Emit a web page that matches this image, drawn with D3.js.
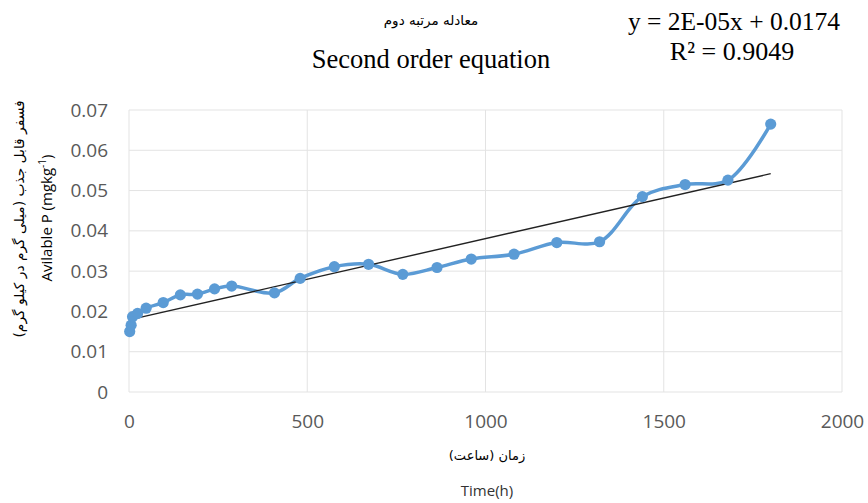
<!DOCTYPE html>
<html><head><meta charset="utf-8">
<script src="https://cdn.jsdelivr.net/npm/d3@7"></script>
<style>body{margin:0;background:#fff}svg{display:block}</style>
</head><body><svg id="c" width="868" height="503"></svg>
<script>
const hours = [2, 6, 10, 24, 48, 96, 144, 192, 240, 288, 408, 480, 576, 672, 768, 864, 960, 1080, 1200, 1320, 1440, 1560, 1680, 1800];
const availP = [0.0150, 0.0166, 0.0187, 0.0195, 0.0208, 0.0222, 0.0241, 0.0243, 0.0256, 0.0263, 0.0246, 0.0282, 0.0311, 0.0317, 0.0292, 0.0309, 0.0330, 0.0342, 0.0371, 0.0373, 0.0485, 0.0515, 0.0526, 0.0665];
const xTicks = [0, 500, 1000, 1500, 2000];
const yTicks = [0, 0.01, 0.02, 0.03, 0.04, 0.05, 0.06, 0.07];
const titleFa = "معادله مرتبه دوم";
const titleEn = "Second order equation";
const eqText = "y = 2E-05x + 0.0174";
const r2Text = "R² = 0.9049";
const yLabelFa = "فسفر قابل جذب (میلی گرم در کیلو گرم)";
const xLabelFa = "زمان (ساعت)";
const xLabelEn = "Time(h)";

const svg = d3.select("#c");
const L = 129, R = 842, T = 110, B = 392;
const x = d3.scaleLinear().domain([0, 2000]).range([L, R]);
const y = d3.scaleLinear().domain([0, 0.07]).range([B, T]);
const grid = "#e3e3e3", tickCol = "#595959";

// gridlines
svg.append("g").selectAll("line").data(yTicks).join("line")
  .attr("x1", L).attr("x2", R).attr("y1", d => y(d)).attr("y2", d => y(d))
  .attr("stroke", grid).attr("stroke-width", 1);
svg.append("g").selectAll("line").data(xTicks).join("line")
  .attr("y1", T).attr("y2", B).attr("x1", d => x(d)).attr("x2", d => x(d))
  .attr("stroke", grid).attr("stroke-width", 1);

// axes (tick labels only)
const yAxis = d3.axisLeft(y).tickValues(yTicks).tickSize(0).tickPadding(21)
  .tickFormat(d => d === 0 ? "0" : d3.format(".2f")(d));
const gy = svg.append("g").attr("transform", `translate(${L},0)`).call(yAxis);
gy.select(".domain").remove();
gy.selectAll("text").attr("font-family", "'Open Sans', sans-serif").attr("font-size", 19).attr("fill", tickCol);

const xAxis = d3.axisBottom(x).tickValues(xTicks).tickSize(0).tickPadding(23).tickFormat(d3.format("d"));
const gx = svg.append("g").attr("transform", `translate(0,${B})`).call(xAxis);
gx.select(".domain").remove();
gx.selectAll("text").attr("font-family", "'Open Sans', sans-serif").attr("font-size", 19).attr("fill", tickCol);

// data line
const pts = hours.map((h, i) => [h, availP[i]]);
const line = d3.line().x(d => x(d[0])).y(d => y(d[1])).curve(d3.curveCatmullRom.alpha(0.5));
svg.append("path").attr("d", line(pts)).attr("fill", "none")
  .attr("stroke", "#5b9bd5").attr("stroke-width", 3.5).attr("stroke-linejoin", "round");

// linear trendline (least squares)
const n = pts.length;
const mx = d3.mean(hours), my = d3.mean(availP);
const slope = d3.sum(pts, d => (d[0] - mx) * (d[1] - my)) / d3.sum(pts, d => (d[0] - mx) ** 2);
const icpt = my - slope * mx;
const tEnd = hours[n - 1];
svg.append("line")
  .attr("x1", x(0)).attr("y1", y(icpt))
  .attr("x2", x(tEnd)).attr("y2", y(icpt + slope * tEnd))
  .attr("stroke", "#222").attr("stroke-width", 1.4);

// markers
svg.append("g").selectAll("circle").data(pts).join("circle")
  .attr("cx", d => x(d[0])).attr("cy", d => y(d[1])).attr("r", 5.6)
  .attr("fill", "#5b9bd5");

// titles
svg.append("text").attr("x", 431).attr("y", 25).attr("text-anchor", "middle")
  .attr("font-family", "'DejaVu Sans', sans-serif").attr("font-size", 13.5).attr("direction", "rtl")
  .attr("fill", "#000").text(titleFa);
svg.append("text").attr("x", 431).attr("y", 68).attr("text-anchor", "middle")
  .attr("font-family", "'Liberation Serif', serif").attr("font-size", 26.5).attr("fill", "#000").text(titleEn);
svg.append("text").attr("x", 734).attr("y", 30).attr("text-anchor", "middle")
  .attr("font-family", "'Liberation Serif', serif").attr("font-size", 25.5).attr("fill", "#000").text(eqText);
svg.append("text").attr("x", 732).attr("y", 60).attr("text-anchor", "middle")
  .attr("font-family", "'Liberation Serif', serif").attr("font-size", 26).attr("fill", "#000").text(r2Text);

// y labels
svg.append("text").attr("transform", "translate(24,219) rotate(-90)").attr("text-anchor", "middle")
  .attr("font-family", "'DejaVu Sans', sans-serif").attr("font-size", 13.8).attr("direction", "rtl")
  .attr("fill", "#000").text(yLabelFa);
const ylab = svg.append("text").attr("transform", "translate(52,218) rotate(-90)").attr("text-anchor", "middle")
  .attr("font-family", "'Open Sans', sans-serif").attr("font-size", 15).attr("fill", "#000");
ylab.append("tspan").text("Avilable P (mgkg");
ylab.append("tspan").attr("font-size", 10).attr("dy", -6).text("-1");
ylab.append("tspan").attr("dy", 6).text(")");

// x labels
svg.append("text").attr("x", 487).attr("y", 460).attr("text-anchor", "middle")
  .attr("font-family", "'DejaVu Sans', sans-serif").attr("font-size", 13).attr("direction", "rtl")
  .attr("fill", "#000").text(xLabelFa);
svg.append("text").attr("x", 487).attr("y", 496).attr("text-anchor", "middle")
  .attr("font-family", "'Open Sans', sans-serif").attr("font-size", 15).attr("fill", "#333").text(xLabelEn);
</script></body></html>
